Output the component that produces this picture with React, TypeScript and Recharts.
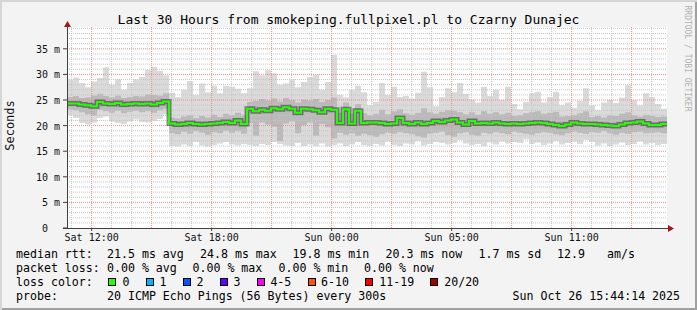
import React from 'react';
import { ComposedChart, Area, Line, XAxis, YAxis, ReferenceLine, CartesianGrid } from 'recharts';

const FONT = '"DejaVu Sans Mono", monospace';

// time step of each column, hours from graph start (Sat 10:46)
const STEP_H = 0.3;

const medianRtt = [
  24.3, 24.3, 24.1, 24.0, 23.8, 24.6, 24.3, 24.2, 24.4, 24.1, 24.2, 24.3, 24.2, 24.3, 24.1, 24.4, 24.7,
  20.4, 20.2, 20.3, 20.5, 20.3, 20.2, 20.3, 20.4, 20.5, 20.7, 20.5, 21.0, 20.3,
  23.3, 22.8, 23.1, 22.9, 23.4, 23.2, 23.6, 23.3, 22.5, 23.3, 23.2, 23.0, 22.6, 23.3, 23.1,
  20.5, 23.2, 20.4, 22.9, 20.5,
  20.6, 20.6, 20.5, 20.3, 20.4, 21.5, 20.5, 20.3, 20.6, 20.3,
  20.5, 20.9, 20.7, 21.0, 21.2, 20.6, 20.2, 20.9, 20.4, 20.5,
  20.4, 20.6, 20.4, 20.3, 20.4, 20.3, 20.4, 20.5, 20.6, 20.5,
  20.3, 20.1, 19.9, 20.2, 20.6, 20.4, 20.3, 20.3, 20.2, 20.1,
  20.0, 19.9, 20.2, 20.5, 20.6, 20.8, 20.4, 20.1, 20.1, 20.3,
  20.3,
];

const smokeMax = [
  29.0, 29.4, 28.3, 27.5, 28.6, 29.3, 31.4, 28.0, 29.0, 27.0, 28.3, 29.0, 29.5, 30.9, 31.5, 30.7, 29.8,
  26.4, 25.6, 27.0, 28.7, 26.0, 28.2, 26.5, 27.8, 26.3, 27.8, 27.6, 27.2, 26.3,
  27.3, 30.6, 29.8, 30.8, 30.2, 28.0, 28.2, 29.0, 27.5, 28.5, 29.5, 30.0, 27.0, 28.5, 33.8,
  26.0, 25.5, 27.0, 27.8, 26.5,
  24.0, 24.6, 28.3, 26.0, 27.6, 25.6, 25.8, 25.3, 26.4, 30.5,
  27.5, 23.8, 25.6, 27.3, 26.5, 28.3, 26.2, 25.1, 24.5, 27.6,
  25.8, 27.0, 25.0, 27.6, 24.2, 23.2, 24.6, 26.3, 26.6, 24.5,
  25.6, 26.6, 24.0, 24.5, 23.5, 24.8, 27.3, 24.0, 23.0, 24.5,
  25.0, 24.4, 25.5, 27.9, 25.0, 24.0, 26.3, 25.6, 24.2, 23.3,
  23.3,
];

const smokeMin = [
  22.0, 21.5, 20.5, 20.2, 20.6, 21.5, 21.8, 20.8, 20.5, 20.3, 20.8, 21.2, 20.7, 20.6, 20.9, 21.3, 22.2,
  16.0, 15.9, 16.3, 16.0, 16.8, 16.1, 15.9, 16.2, 16.5, 16.8, 16.3, 16.1, 16.4,
  16.2, 16.0, 16.4, 16.2, 16.8, 16.4, 16.1, 16.0, 16.6, 16.0, 16.3, 16.0, 16.5, 15.9, 16.2,
  16.5, 16.0, 16.3, 16.8, 16.2,
  16.0, 16.4, 16.1, 16.9, 16.2, 16.0, 16.5, 16.3, 17.0, 16.1,
  16.4, 16.8, 16.6, 16.3, 16.6, 17.2, 16.5, 16.2, 16.4, 16.0,
  16.7, 16.3, 16.9, 16.5, 16.8, 16.6, 17.3, 16.4, 16.7, 16.2,
  16.5, 17.0, 16.3, 16.6, 16.9, 16.4, 17.2, 16.8, 16.1, 16.5,
  16.0, 16.3, 16.7, 16.2, 16.4, 16.9, 16.3, 16.6, 16.2, 16.4,
  16.4,
];

const smokeHi = [
  25.6, 25.8, 25.4, 25.5, 25.9, 26.2, 25.8, 25.5, 25.9, 25.4, 25.6, 25.8, 25.7, 26.1, 26.0, 25.9, 26.3,
  21.6, 21.4, 21.8, 22.0, 21.5, 21.9, 21.6, 22.1, 21.7, 22.3, 22.0, 22.5, 22.1,
  24.6, 24.8, 25.2, 24.9, 25.3, 24.7, 25.4, 25.0, 24.5, 25.1, 24.9, 25.2, 24.6, 25.0, 25.5,
  22.5, 24.5, 22.3, 24.2, 22.4,
  22.0, 22.3, 23.1, 22.2, 22.8, 23.2, 22.4, 22.1, 22.5, 23.4,
  22.6, 22.3, 22.7, 23.0, 22.9, 22.6, 22.2, 22.6, 22.1, 22.8,
  22.3, 22.6, 22.2, 22.5, 21.9, 22.0, 22.4, 22.6, 22.8, 22.3,
  22.5, 22.7, 21.8, 21.9, 22.0, 22.4, 22.8, 21.7, 21.9, 21.6,
  22.0, 21.9, 22.3, 22.6, 22.0, 21.8, 22.1, 21.9, 21.7, 21.8,
  21.8,
];

const smokeLo = [
  23.2, 23.0, 22.6, 22.2, 22.0, 23.1, 22.8, 22.5, 22.9, 22.4, 22.7, 22.9, 22.6, 22.8, 22.5, 23.0, 23.3,
  18.5, 18.3, 18.8, 18.4, 18.9, 18.6, 18.2, 18.7, 18.5, 19.0, 18.6, 18.9, 18.4,
  20.5, 18.0, 20.6, 20.2, 19.8, 17.0, 20.4, 20.8, 18.5, 20.1, 20.6, 18.0, 20.3, 19.7, 17.5,
  18.6, 18.2, 18.5, 18.0, 18.4,
  18.1, 17.8, 18.3, 18.6, 18.4, 18.7, 18.5, 18.3, 17.9, 17.7,
  18.4, 18.6, 18.8, 18.1, 17.8, 18.5, 18.7, 18.2, 18.0, 18.6,
  18.4, 18.7, 18.5, 18.3, 18.8, 18.6, 18.4, 18.2, 18.5, 18.7,
  18.6, 18.3, 18.1, 18.5, 18.8, 18.6, 18.4, 18.7, 18.6, 18.9,
  18.5, 18.2, 18.6, 18.4, 18.7, 18.8, 18.5, 18.6, 18.7, 18.5,
  18.5,
];

const xTickHours = [1.233, 7.233, 13.233, 19.233, 25.233];
const xTickLabels = ['Sat 12:00', 'Sat 18:00', 'Sun 00:00', 'Sun 05:00', 'Sun 11:00'];
const majorHours = [1.233, 4.233, 7.233, 10.233, 13.233, 16.233, 19.233, 22.233, 25.233, 28.233];
const minorHours = Array.from({ length: 30 }, (_, k) => 0.233 + k).filter(
  (h) => !majorHours.some((m) => Math.abs(m - h) < 0.01)
);
const yTicks = [0, 5, 10, 15, 20, 25, 30, 35];
const majorMs = [5, 10, 15, 20, 25, 30, 35];
const minorMs = Array.from({ length: 39 }, (_, k) => k + 1).filter((v) => v % 5 !== 0);

const lossColors = [
  { label: '0', color: '#26ff00', box: 108.4, text: 122.4 },
  { label: '1', color: '#00b8ff', box: 145.8, text: 159.4 },
  { label: '2', color: '#0059ff', box: 182.7, text: 196.6 },
  { label: '3', color: '#5e00ff', box: 220, text: 233.4 },
  { label: '4-5', color: '#ff00ff', box: 256.9, text: 270.4 },
  { label: '6-10', color: '#ff5500', box: 307.6, text: 321.1 },
  { label: '11-19', color: '#ff0000', box: 365.3, text: 379.3 },
  { label: '20/20', color: '#a00000', box: 430.2, text: 444.2 },
];

const rows = medianRtt.map((m, i) => ({
  t: i * STEP_H,
  outer: [smokeMin[i], smokeMax[i]],
  inner: [smokeLo[i], smokeHi[i]],
  med: m,
}));

const YTick = (props: any) => {
  const { y, payload } = props;
  const v = payload.value;
  if (v === 0) {
    return (
      <text x={48} y={y + 4} textAnchor="end" fontFamily={FONT} fontSize={10} fill="#111">0</text>
    );
  }
  return (
    <text x={60} y={y + 4} textAnchor="end" fontFamily={FONT} fontSize={10} fill="#111">{`${v} m`}</text>
  );
};

const XTick = (props: any) => {
  const { x, payload } = props;
  const idx = xTickHours.findIndex((h) => Math.abs(h - payload.value) < 0.001);
  return (
    <text x={x} y={241} textAnchor="middle" fontFamily={FONT} fontSize={10} fill="#111">
      {idx >= 0 ? xTickLabels[idx] : ''}
    </text>
  );
};

const legendStyle: React.CSSProperties = {
  position: 'absolute',
  fontFamily: FONT,
  fontSize: 11.6,
  lineHeight: '14px',
  whiteSpace: 'pre',
  color: '#000',
};

const L = ({ x, y, children }: { x: number; y: number; children: React.ReactNode }) => (
  <div style={{ ...legendStyle, left: x, top: y }}>{children}</div>
);

export default function App() {
  return (
    <div
      style={{
        position: 'absolute',
        left: 0,
        top: 0,
        width: 697,
        height: 310,
        background: '#f3f3f3',
        overflow: 'hidden',
        boxShadow: 'inset 2px 2px 0 #d6d6d6, inset -2px -2px 0 #a0a0a0',
      }}
    >
      <ComposedChart
        width={697}
        height={310}
        data={rows}
        margin={{ top: 27, right: 30, bottom: 0, left: 0 }}
      >
        <CartesianGrid fill="#ffffff" horizontal={false} vertical={false} />
        <XAxis
          dataKey="t"
          type="number"
          domain={[0, 30]}
          ticks={xTickHours}
          allowDataOverflow
          height={82}
          axisLine={false}
          tickSize={3}
          tickLine={{ stroke: '#404040' }}
          tick={<XTick />}
          interval={0}
        />
        <YAxis
          type="number"
          domain={[0, 39.26]}
          ticks={yTicks}
          allowDataOverflow
          width={67}
          axisLine={false}
          tickSize={4}
          tickLine={{ stroke: '#404040' }}
          tick={<YTick />}
          interval={0}
        />
        <Area
          dataKey="outer"
          type="stepAfter"
          stroke="none"
          fill="#dadada"
          fillOpacity={1}
          isAnimationActive={false}
          dot={false}
          activeDot={false}
        />
        <Area
          dataKey="inner"
          type="stepAfter"
          stroke="none"
          fill="#bababa"
          fillOpacity={1}
          isAnimationActive={false}
          dot={false}
          activeDot={false}
        />
        {minorHours.map((h) => (
          <ReferenceLine key={`vh${h}`} x={h} stroke="#c4c4c4" strokeDasharray="1 1" ifOverflow="hidden" />
        ))}
        {minorMs.map((v) => (
          <ReferenceLine key={`hm${v}`} y={v} stroke="#c4c4c4" strokeDasharray="1 1" ifOverflow="hidden" />
        ))}
        {majorHours.map((h) => (
          <ReferenceLine key={`vM${h}`} x={h} stroke="#e88c8c" strokeDasharray="1 1" ifOverflow="hidden" />
        ))}
        {majorMs.map((v) => (
          <ReferenceLine key={`hM${v}`} y={v} stroke="#e88c8c" strokeDasharray="1 1" ifOverflow="hidden" />
        ))}
        <Line
          dataKey="med"
          type="stepAfter"
          stroke="#2e2e2e"
          strokeOpacity={0.55}
          strokeWidth={5}
          dot={false}
          activeDot={false}
          isAnimationActive={false}
        />
        <Line
          dataKey="med"
          type="stepAfter"
          stroke="#22ff00"
          strokeWidth={2}
          dot={false}
          activeDot={false}
          isAnimationActive={false}
        />
      </ComposedChart>

      <svg
        width={697}
        height={310}
        style={{ position: 'absolute', left: 0, top: 0, pointerEvents: 'none' }}
      >
        <line x1={67.5} y1={228.5} x2={67.5} y2={24} stroke="#404040" strokeWidth={1} />
        <polygon points="64,27 71,27 67.5,21" fill="#a01818" />
        <line x1={63} y1={228.5} x2={669} y2={228.5} stroke="#404040" strokeWidth={1} />
        <polygon points="668,225 668,232 674,228.5" fill="#a01818" />
        <text
          x={14}
          y={125.5}
          transform="rotate(-90 14 125.5)"
          textAnchor="middle"
          fontFamily={FONT}
          fontSize={12}
          fill="#111"
        >
          Seconds
        </text>
        <text
          x={685}
          y={58.5}
          transform="rotate(90 685 58.5)"
          textAnchor="middle"
          fontFamily={FONT}
          fontSize={8}
          fill="#b0b0b0"
        >
          RRDTOOL / TOBI OETIKER
        </text>
      </svg>

      <div
        style={{
          position: 'absolute',
          left: 0,
          top: 13,
          width: 697,
          textAlign: 'center',
          fontFamily: FONT,
          fontSize: 13,
          lineHeight: '13px',
          whiteSpace: 'pre',
          color: '#000',
        }}
      >
        Last 30 Hours from smokeping.fullpixel.pl to Czarny Dunajec
      </div>

      <L x={16} y={247}>median rtt:</L>
      <L x={107} y={247}>21.5 ms avg</L>
      <L x={200} y={247}>24.8 ms max</L>
      <L x={292.5} y={247}>19.8 ms min</L>
      <L x={385.5} y={247}>20.3 ms now</L>
      <L x={478.5} y={247}>1.7 ms sd</L>
      <L x={557} y={247}>12.9</L>
      <L x={607} y={247}>am/s</L>

      <L x={16} y={261}>packet loss:</L>
      <L x={107} y={261}>0.00 % avg</L>
      <L x={192.5} y={261}>0.00 % max</L>
      <L x={278.5} y={261}>0.00 % min</L>
      <L x={364} y={261}>0.00 % now</L>

      <L x={16} y={275}>loss color:</L>
      {lossColors.map((c) => (
        <React.Fragment key={c.label}>
          <div
            style={{
              position: 'absolute',
              left: c.box,
              top: 278,
              width: 8,
              height: 8,
              boxSizing: 'border-box',
              border: '1px solid #000',
              background: c.color,
            }}
          />
          <L x={c.text} y={275}>{c.label}</L>
        </React.Fragment>
      ))}

      <L x={16} y={289}>probe:</L>
      <L x={107} y={289}>20 ICMP Echo Pings (56 Bytes) every 300s</L>
      <L x={512.5} y={289}>Sun Oct 26 15:44:14 2025</L>
    </div>
  );
}
